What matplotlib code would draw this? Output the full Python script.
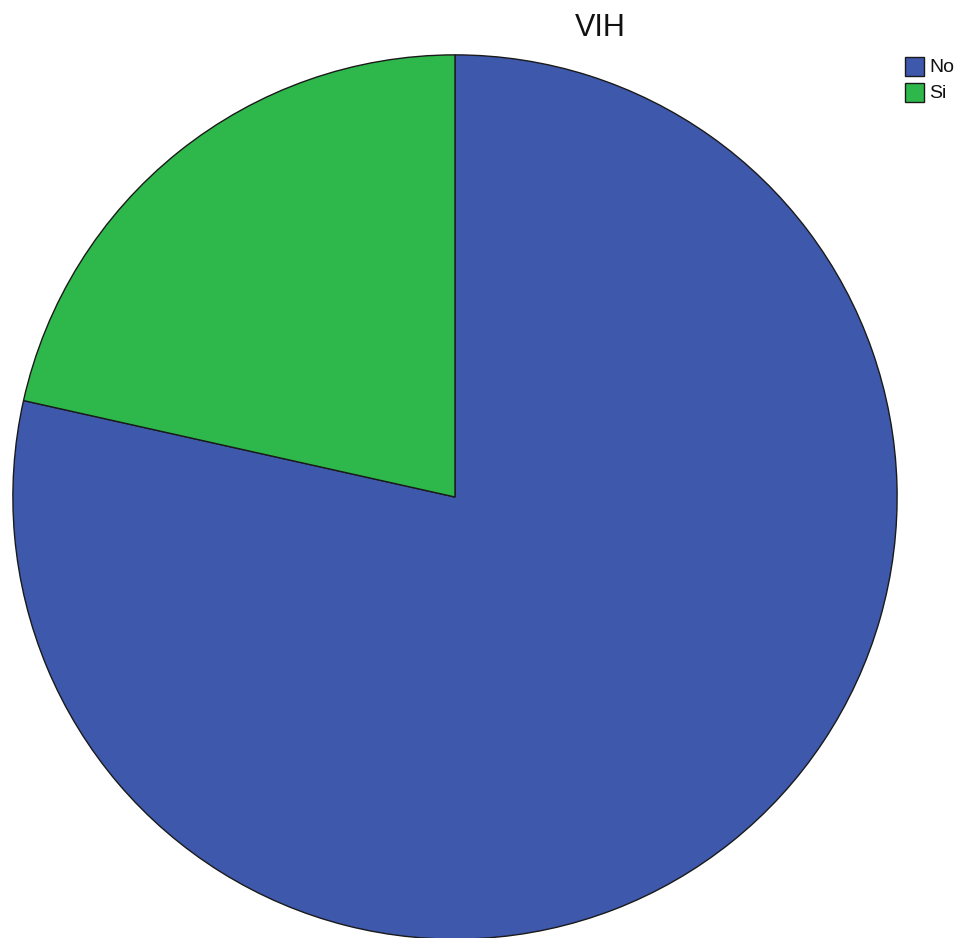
import matplotlib
matplotlib.use("Agg")
import matplotlib.pyplot as plt
from matplotlib.patches import Rectangle

title = "VIH"
categories = ["No", "Si"]
percentages = [78.5, 21.5]
colors = ["#3e58ac", "#2eb84b"]

W, H = 957, 938
fig = plt.figure(figsize=(W / 100, H / 100), dpi=100)
fig.patch.set_facecolor("white")

# pie axes: center (455, 497) px, radius 443 px
cx, cy, r = 455, 497, 443
ax = fig.add_axes([(cx - r) / W, (H - cy - r) / H, 2 * r / W, 2 * r / H])
ax.pie(percentages, colors=colors, startangle=90, counterclock=False,
       radius=1.0, wedgeprops=dict(edgecolor="#1a1a1a", linewidth=1.0))
ax.set_xlim(-1.002, 1.002)
ax.set_ylim(-1.002, 1.002)
ax.set_aspect("equal")
ax.axis("off")

fig.text(600 / W, 1 - 28 / H, title, ha="center", va="center",
         fontsize=22, family="Liberation Sans", color="#111111")

# legend drawn in figure pixel coordinates
for i, (lab, col) in enumerate(zip(categories, colors)):
    y0 = 57 + i * 26
    fig.patches.append(Rectangle((905 / W, 1 - (y0 + 19) / H), 19 / W, 19 / H,
                                 facecolor=col, edgecolor="#1a1a1a",
                                 linewidth=1.0, transform=fig.transFigure))
    fig.text(929 / W, 1 - (y0 + 10) / H, lab, ha="left", va="center",
             fontsize=14, family="Liberation Sans", color="#111111")

fig.savefig("out.png", dpi=100, facecolor="white")
